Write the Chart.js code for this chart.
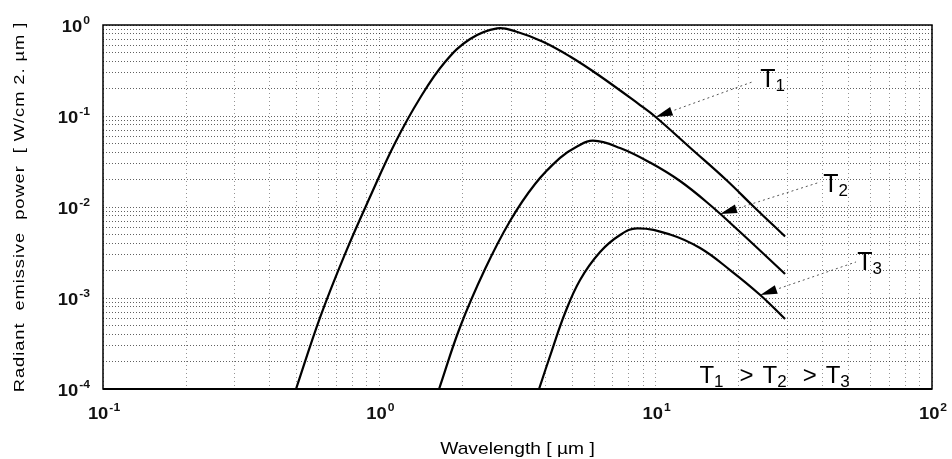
<!DOCTYPE html>
<html>
<head>
<meta charset="utf-8">
<script src="https://cdn.jsdelivr.net/npm/chart.js@4.4.1/dist/chart.umd.min.js"></script>
<style>
  html, body { margin: 0; padding: 0; background: #fff; }
  #wrap { width: 952px; height: 459px; }
</style>
</head>
<body>
<div id="wrap"><canvas id="c" width="952" height="459"></canvas></div>
<script>
// Spectral emissive power curves for three temperatures (wavelength in µm, power in W/cm2·µm)
const wavelengthT1 = [0.4995, 0.610, 0.751, 0.925, 1.140, 1.404, 1.729, 2.130, 2.667, 3.14, 3.91, 4.90, 6.19, 8.78, 10.0, 13.3, 18.1, 22.5, 29.4];
const powerT1      = [1e-4, 6.10e-4, 3.04e-3, 0.01288, 0.0505, 0.1577, 0.392, 0.702, 0.920, 0.844, 0.655, 0.451, 0.284, 0.132, 0.0975, 0.0451, 0.01955, 0.01026, 4.74e-3];

const wavelengthT2 = [1.645, 1.960, 2.413, 2.972, 3.661, 4.508, 5.194, 5.934, 7.431, 9.543, 12.25, 15.74, 20.21, 29.4];
const powerT2      = [1e-4, 4.80e-4, 2.08e-3, 7.02e-3, 0.0179, 0.0346, 0.0462, 0.0535, 0.0445, 0.0308, 0.0193, 0.01052, 5.31e-3, 1.835e-3];

const wavelengthT3 = [3.784, 4.217, 4.699, 5.326, 6.293, 7.431, 8.565, 11.27, 14.48, 18.59, 23.9, 29.4];
const powerT3      = [1e-4, 2.68e-4, 6.84e-4, 1.577e-3, 3.20e-3, 4.92e-3, 5.83e-3, 4.99e-3, 3.54e-3, 2.03e-3, 1.08e-3, 5.88e-4];

// Decade tick labels, written as 10^exponent
const xTickExponents = [-1, 0, 1, 2];
const yTickExponents = [-4, -3, -2, -1, 0];

const xTitle = 'Wavelength [ µm ]';
const yTitle = 'Radiant  emissive  power  [ W/cm 2. µm ]';

// Curve labels with their pointer arrows (all in wavelength / power units)
const curveLabels = [
  { sub: '1', at: [23.9, 0.208],   tip: [10.0, 0.0975],  tail: [22.3, 0.236] },
  { sub: '2', at: [40.4, 0.0146],  tip: [17.1, 8.38e-3], tail: [39.4, 0.0188] },
  { sub: '3', at: [53.6, 2.03e-3], tip: [23.9, 1.08e-3], tail: [53.1, 2.49e-3] }
];
const orderNote = { parts: [['T', '1'], ['T', '2'], ['T', '3']], at: [14.4, 1.16e-4] };

const FONT = "'Liberation Sans', Arial, Helvetica, sans-serif";

function toPoints(xs, ys) { return xs.map((x, i) => ({ x: x, y: ys[i] })); }

// 1..9 x 10^e for every decade, used for the log grid
function logGrid(lo, hi) {
  const out = [];
  for (let e = lo; e < hi; e++) {
    for (let m = 1; m <= 9; m++) out.push(parseFloat((m * Math.pow(10, e)).toPrecision(6)));
  }
  out.push(Math.pow(10, hi));
  return out;
}

function stretched(ctx, text, x, y, font, sx, align) {
  ctx.save();
  ctx.font = font;
  ctx.translate(x, y);
  ctx.scale(sx, 1);
  ctx.textAlign = align || 'left';
  ctx.textBaseline = 'alphabetic';
  ctx.fillText(text, 0, 0);
  ctx.restore();
}
function textWidth(ctx, text, font, sx) {
  ctx.save();
  ctx.font = font;
  const w = ctx.measureText(text).width * sx;
  ctx.restore();
  return w;
}

const TICK_FONT = 'bold 16px ' + FONT;
const EXP_FONT = 'bold 11px ' + FONT;

// power-of-ten label: "10" with a raised exponent
function powerLabel(ctx, exp, x, yBase, align) {
  const e = String(exp);
  const w10 = textWidth(ctx, '10', TICK_FONT, 1.15);
  const wE = textWidth(ctx, e, EXP_FONT, 1.1);
  const total = w10 + 1 + wE;
  let left = x;
  if (align === 'right') left = x - total;
  if (align === 'center') left = x - total / 2;
  stretched(ctx, '10', left, yBase, TICK_FONT, 1.15);
  stretched(ctx, e, left + w10 + 1, yBase - 8.5, EXP_FONT, 1.1);
}

function subscripted(ctx, main, sub, x, yBase, size, subSize) {
  const f1 = size + 'px ' + FONT, f2 = subSize + 'px ' + FONT;
  const wMain = textWidth(ctx, main, f1, 1);
  stretched(ctx, main, x, yBase, f1, 1);
  stretched(ctx, sub, x + wMain, yBase + 4, f2, 1);
  return wMain + textWidth(ctx, sub, f2, 1);
}

const decorations = {
  id: 'decorations',
  afterDatasetsDraw(chart) {
    const ctx = chart.ctx;
    const a = chart.chartArea;
    ctx.save();
    ctx.strokeStyle = '#000';
    ctx.lineWidth = 1.5;
    ctx.strokeRect(a.left, a.top, a.right - a.left, a.bottom - a.top);
    ctx.beginPath();
    ctx.lineWidth = 2.2;
    ctx.moveTo(a.left, a.bottom);
    ctx.lineTo(a.right, a.bottom);
    ctx.stroke();
    ctx.restore();
  },
  afterDraw(chart) {
    const ctx = chart.ctx;
    const xs = chart.scales.x, ys = chart.scales.y;
    const a = chart.chartArea;
    ctx.save();
    ctx.fillStyle = '#111';

    // axis tick labels
    yTickExponents.forEach(e => {
      const py = ys.getPixelForValue(Math.pow(10, e));
      powerLabel(ctx, e, a.left - 13, py + 7, 'right');
    });
    xTickExponents.forEach(e => {
      const px = xs.getPixelForValue(Math.pow(10, e));
      powerLabel(ctx, e, px + 1, a.bottom + 30, 'center');
    });

    // axis titles
    ctx.fillStyle = '#000';
    stretched(ctx, xTitle, (a.left + a.right) / 2, a.bottom + 65, '17px ' + FONT, 1.13, 'center');
    ctx.save();
    ctx.translate(24, (a.top + a.bottom) / 2);
    ctx.rotate(-Math.PI / 2);
    ctx.scale(1.18, 1);
    ctx.font = '15.5px ' + FONT;
    ctx.textAlign = 'center';
    if ('letterSpacing' in ctx) ctx.letterSpacing = '0.8px';
    ctx.fillText(yTitle, 0, 0);
    ctx.restore();

    // curve labels with dotted leaders and arrowheads
    curveLabels.forEach(l => {
      const tx = xs.getPixelForValue(l.tip[0]), ty = ys.getPixelForValue(l.tip[1]);
      const ex = xs.getPixelForValue(l.tail[0]), ey = ys.getPixelForValue(l.tail[1]);
      const dx = ex - tx, dy = ey - ty, len = Math.hypot(dx, dy);
      const ux = dx / len, uy = dy / len;
      const headLen = 17, half = 4.5;
      const bx = tx + ux * headLen, by = ty + uy * headLen;
      ctx.beginPath();
      ctx.moveTo(tx, ty);
      ctx.lineTo(bx - uy * half, by + ux * half);
      ctx.lineTo(bx + uy * half, by - ux * half);
      ctx.closePath();
      ctx.fill();
      ctx.save();
      ctx.strokeStyle = '#555';
      ctx.lineWidth = 1;
      ctx.setLineDash([2, 3]);
      ctx.beginPath();
      ctx.moveTo(bx + ux * 3, by + uy * 3);
      ctx.lineTo(ex, ey);
      ctx.stroke();
      ctx.restore();
      subscripted(ctx, 'T', l.sub, xs.getPixelForValue(l.at[0]), ys.getPixelForValue(l.at[1]), 25, 17);
    });

    // temperature ordering note
    let nx = xs.getPixelForValue(orderNote.at[0]);
    const ny = ys.getPixelForValue(orderNote.at[1]);
    const gtFont = '24px ' + FONT;
    orderNote.parts.forEach((p, i) => {
      nx += subscripted(ctx, p[0], p[1], nx, ny, 24, 17);
      if (i < orderNote.parts.length - 1) {
        nx += 16;
        stretched(ctx, '>', nx, ny, gtFont, 1);
        nx += textWidth(ctx, '>', gtFont, 1) + 9;
      }
    });
    ctx.restore();
  }
};

const curveStyle = {
  borderColor: '#000',
  borderWidth: 2.2,
  pointRadius: 0,
  fill: false,
  tension: 0.4
};

new Chart(document.getElementById('c'), {
  type: 'line',
  data: {
    datasets: [
      Object.assign({ label: 'T1', data: toPoints(wavelengthT1, powerT1) }, curveStyle),
      Object.assign({ label: 'T2', data: toPoints(wavelengthT2, powerT2) }, curveStyle),
      Object.assign({ label: 'T3', data: toPoints(wavelengthT3, powerT3) }, curveStyle)
    ]
  },
  options: {
    responsive: false,
    animation: false,
    devicePixelRatio: 1,
    layout: { padding: { left: 103, top: 25, right: 20, bottom: 70 } },
    plugins: { legend: { display: false }, tooltip: { enabled: false } },
    scales: {
      x: {
        type: 'logarithmic',
        min: 0.1, max: 100,
        afterBuildTicks: s => { s.ticks = logGrid(-1, 2).map(v => ({ value: v })); },
        ticks: { display: false },
        grid: { drawTicks: false, color: 'rgba(0,0,0,0.42)', lineWidth: 1 },
        border: { display: false, dash: [1, 3] }
      },
      y: {
        type: 'logarithmic',
        min: 1e-4, max: 1,
        afterBuildTicks: s => { s.ticks = logGrid(-4, 0).map(v => ({ value: v })); },
        ticks: { display: false },
        grid: { drawTicks: false, color: 'rgba(0,0,0,0.62)', lineWidth: 1 },
        border: { display: false, dash: [1, 2] }
      }
    }
  },
  plugins: [decorations]
});
</script>
</body>
</html>
